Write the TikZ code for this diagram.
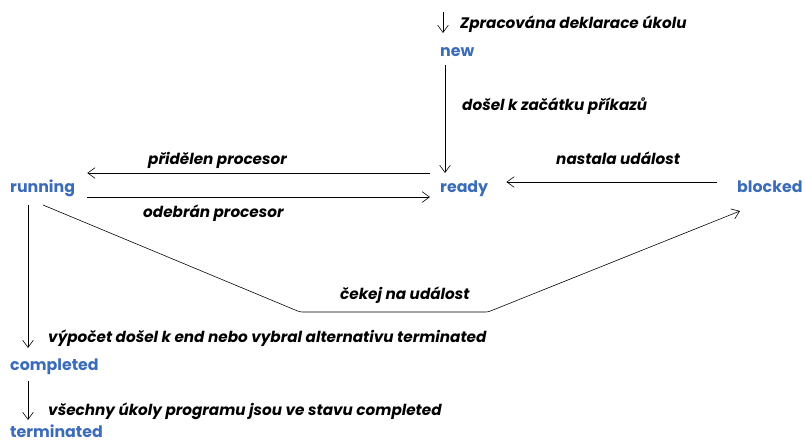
\documentclass[tikz,border=0pt]{standalone}
\usepackage{fontspec}
\setmainfont{Poppins}
\usetikzlibrary{arrows.meta}
\definecolor{stateblue}{RGB}{59,108,184}
\tikzset{
    state/.style={
        anchor=base west,
        inner sep=0pt,
        text=stateblue,
        font=\bfseries\fontsize{13.5}{15}\selectfont
    },
    note/.style={
        anchor=base west,
        inner sep=0pt,
        font=\bfseries\itshape\fontsize{13}{15}\selectfont
    },
    transition/.style={
        -{Straight Barb[length=2.2mm,width=3.2mm]},
        line width=.5pt
    }
}

\begin{document}
\begin{tikzpicture}[x=0.03cm, y=-0.03cm]
    \useasboundingbox (0,0) rectangle (805,442);

    % Stavy
    \path
        node[state] at ( 440, 56) (new)        {new}
        node[state] at ( 440,192) (ready)      {ready}
        node[state] at (  10,192) (running)    {running}
        node[state] at ( 737,192) (blocked)    {blocked}
        node[state] at (  10,370) (completed)  {completed}
        node[state] at (  10,437) (terminated) {terminated};

    % Popisy prechodu
    \path
        node[note] at (460, 28) (decl)    {Zpracována deklarace úkolu}
        node[note] at (462,110) (begin)   {došel k začátku příkazů}
        node[note] at (148,164) (assign)  {přidělen procesor}
        node[note] at (143,217) (revoke)  {odebrán procesor}
        node[note] at (556,164) (occur)   {nastala událost}
        node[note] at (340,299) (wait)    {čekej na událost}
        node[note] at ( 48,342) (finish)  {výpočet došel k end nebo vybral alternativu terminated}
        node[note] at ( 48,415) (allcomp) {všechny úkoly programu jsou ve stavu completed};

    % Pomocne body
    \coordinate (entry) at (443,12);
    \coordinate (bendL) at (300,312);
    \coordinate (bendR) at (488,312);

    % Prechody
    \draw[transition] (entry) -- ([shift={(3,-23)}]new.base west);
    \draw[transition] ([shift={(5,9)}]new.base west)
        -- ([shift={(5,-19)}]ready.base west);
    \draw[transition] ([shift={(-10,-19)}]ready.base west)
        -- ([shift={(12,-19)}]running.base east);
    \draw[transition] ([shift={(12,5)}]running.base east)
        -- ([shift={(-10,5)}]ready.base west);
    \draw[transition] ([shift={(-20,-10)}]blocked.base west)
        -- ([shift={(18,-10)}]ready.base east);
    \draw[transition, rounded corners=2]
        ([shift={(33,13)}]running.base west) -- (bendL) -- (bendR)
        -- ([shift={(3,19)}]blocked.base west);
    \draw[transition] ([shift={(18,13)}]running.base west)
        -- ([shift={(18,-22)}]completed.base west);
    \draw[transition] ([shift={(18,11)}]completed.base west)
        -- ([shift={(18,-17)}]terminated.base west);
\end{tikzpicture}
\end{document}
